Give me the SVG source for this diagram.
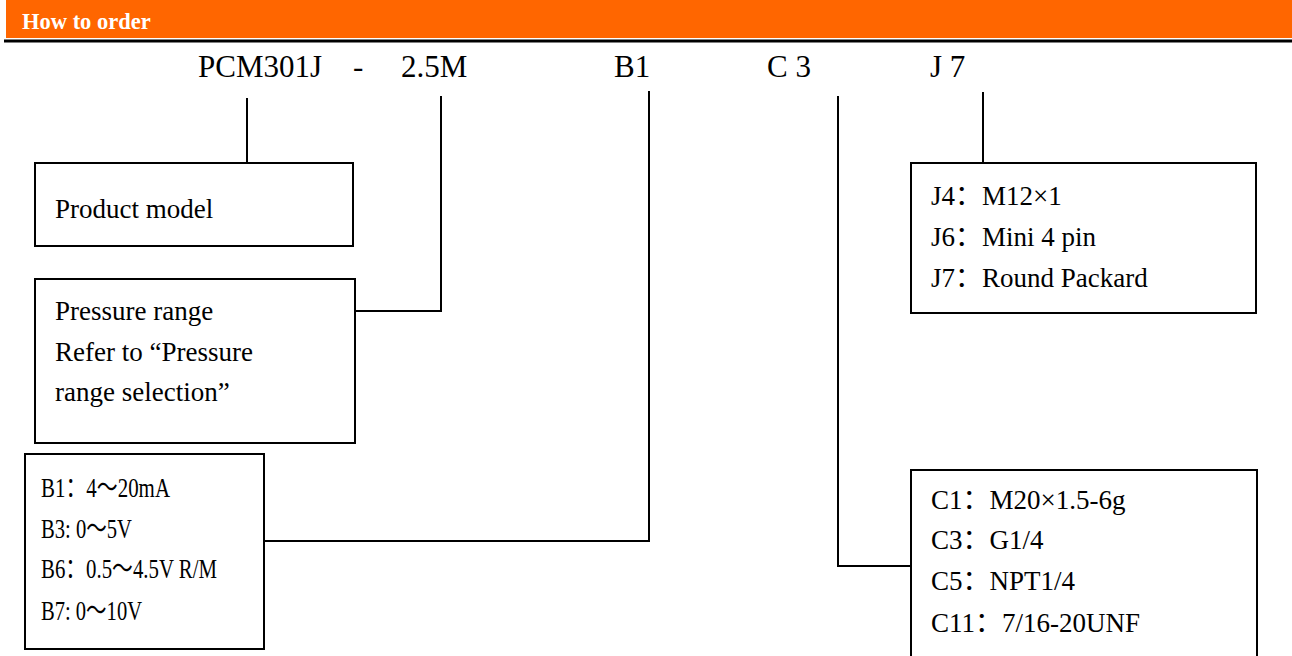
<svg xmlns="http://www.w3.org/2000/svg" width="1292" height="656" viewBox="0 0 1292 656">
<style>
.t{font-family:"Liberation Serif","Noto Sans CJK SC",serif;fill:#000;}
.top{font-size:31px;}
.bx{font-size:27px;}
.bb{font-size:27px;}
.box{fill:#fff;stroke:#000;stroke-width:2;}
.ln{fill:none;stroke:#000;stroke-width:2;}
</style>
<rect x="6" y="0" width="1286" height="38" fill="#FF6600"/>
<line x1="4" y1="41" x2="1292" y2="41" stroke="#000" stroke-width="3"/>
<text x="22" y="29" font-family="Liberation Serif,serif" font-weight="bold" font-size="22.5" fill="#fff">How to order</text>
<g id="code">
<text class="t top" x="198" y="77">PCM301J</text>
<text class="t top" x="353" y="77">-</text>
<text class="t top" x="401" y="77">2.5M</text>
<text class="t top" x="614" y="77">B1</text>
<text class="t top" x="767" y="77">C 3</text>
<text class="t top" x="930" y="77">J 7</text>
</g>
<g id="connectors">
<path class="ln" d="M247 98 V163"/>
<path class="ln" d="M441 96 V311 H355"/>
<path class="ln" d="M649 91 V541 H264"/>
<path class="ln" d="M838 96 V566 H911"/>
<path class="ln" d="M983 92 V163"/>
</g>
<g id="product">
<rect class="box" x="35" y="163" width="318" height="83"/>
<text class="t bx" x="55" y="218">Product model</text>
</g>
<g id="pressure">
<rect class="box" x="35" y="279" width="320" height="164"/>
<text class="t bx" x="55" y="320">Pressure range</text>
<text class="t bx" x="55" y="361">Refer to “Pressure</text>
<text class="t bx" x="55" y="401">range selection”</text>
</g>
<g id="output">
<rect class="box" x="25" y="454" width="239" height="195"/>
<text class="t bb" x="41" y="497" textLength="129" lengthAdjust="spacingAndGlyphs">B1：4～20mA</text>
<text class="t bb" x="41" y="538" textLength="91" lengthAdjust="spacingAndGlyphs">B3: 0～5V</text>
<text class="t bb" x="41" y="578" textLength="176" lengthAdjust="spacingAndGlyphs">B6：0.5～4.5V R/M</text>
<text class="t bb" x="41" y="620" textLength="101" lengthAdjust="spacingAndGlyphs">B7: 0～10V</text>
</g>
<g id="connector-j">
<rect class="box" x="911" y="163" width="345" height="150"/>
<text class="t bx" x="931" y="205">J4：M12×1</text>
<text class="t bx" x="931" y="246">J6：Mini 4 pin</text>
<text class="t bx" x="931" y="287">J7：Round Packard</text>
</g>
<g id="thread">
<rect class="box" x="911" y="470" width="346" height="200"/>
<text class="t bx" x="931" y="509">C1：M20×1.5-6g</text>
<text class="t bx" x="931" y="549">C3：G1/4</text>
<text class="t bx" x="931" y="590">C5：NPT1/4</text>
<text class="t bx" x="931" y="632">C11：7/16-20UNF</text>
</g>
</svg>
